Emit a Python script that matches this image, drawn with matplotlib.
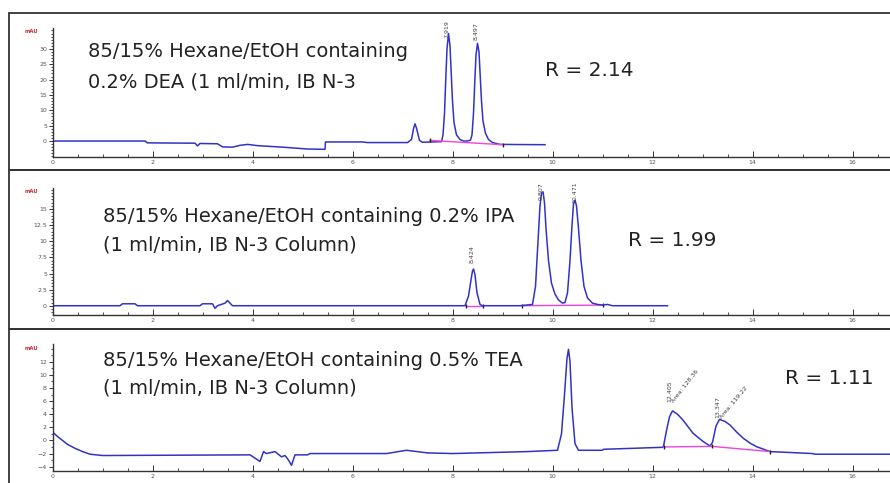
import numpy as np
import matplotlib.pyplot as plt
from matplotlib.patches import Rectangle
from matplotlib.ticker import MultipleLocator

plt.rcParams['font.family'] = ['DejaVu Sans']

# Panel 1: 85/15 Hexane/EtOH + 0.2% DEA
t1 = [0, 1.85, 1.9, 2.85, 2.9, 2.95, 3.3, 3.4, 3.6, 3.75, 3.9, 4.1, 4.6, 5.1, 5.45, 5.46,
      6.2, 6.3, 7.1, 7.18, 7.22, 7.25, 7.28, 7.34, 7.4, 7.78, 7.81, 7.84, 7.865, 7.89, 7.92,
      7.95, 7.975, 8.0, 8.03, 8.08, 8.15, 8.22, 8.3, 8.36, 8.39, 8.42, 8.445, 8.47, 8.50,
      8.53, 8.555, 8.58, 8.61, 8.66, 8.72, 8.8, 8.95, 9.85]
y1 = [0, 0, -0.6, -0.7, -1.6, -0.8, -0.9, -1.9, -2.0, -1.4, -1.1, -1.5, -2.0, -2.6, -2.7, -0.3,
      -0.3, -0.5, -0.5, 0.5, 4.0, 5.6, 4.2, 0.2, -0.4, -0.2, 2, 9, 20, 30, 35,
      31, 22, 13, 6, 2, 0.5, 0, 0, 0.3, 2, 9, 19, 28, 31.8,
      29, 21, 13, 6.5, 2.5, 0.5, -0.5, -1.1, -1.2]
base1_t = [7.55, 9.0]
base1_y = [0.2, -1.2]
peaks1 = ['7.919', '8.497']
peaks1_y = [33.6, 32.9]

# Panel 2: 85/15 Hexane/EtOH + 0.2% IPA
t2 = [0, 1.35, 1.4, 1.65, 1.7, 2.95, 3.0, 3.2, 3.25, 3.3, 3.45, 3.5, 3.55, 3.6, 8.25, 8.32,
      8.37, 8.40, 8.42, 8.45, 8.49, 8.55, 8.6, 9.35, 9.6, 9.66, 9.71, 9.75, 9.78, 9.81, 9.84,
      9.87, 9.92, 9.98, 10.05, 10.12, 10.2, 10.25, 10.3, 10.35, 10.39, 10.42, 10.45, 10.48,
      10.52, 10.57, 10.63, 10.7, 10.8, 10.9, 11.0, 11.1, 11.2, 12.3]
y2 = [0, 0, 0.3, 0.3, 0, 0, 0.3, 0.3, -0.4, 0, 0.4, 0.8, 0.4, 0, 0, 1.5,
      4, 5.4, 5.7, 4.8, 2, 0.2, 0, 0, 0.2, 3, 10, 15.5, 17.5, 17.7, 16,
      12, 7, 3.5, 1.8, 0.9, 0.4, 0.5, 2, 7, 12.5, 15.8, 16.4, 15.5,
      12, 7, 3, 1.2, 0.4, 0.2, 0.1, 0.2, 0, 0]
base2_t = [[8.26, 8.6], [9.38, 11.0]]
base2_y = [[0, 0], [0, 0.1]]
peaks2 = ['8.424', '9.807', '10.471']
peaks2_y = [6.6, 16.4, 15.9]

# Panel 3: 85/15 Hexane/EtOH + 0.5% TEA
t3 = [0, 0.1, 0.2, 0.3, 0.45, 0.6, 0.75, 1.0, 3.95, 4.15, 4.22, 4.28, 4.45, 4.58, 4.65, 4.72,
      4.78, 4.85, 5.1, 5.15, 6.68, 7.08, 7.5, 8.0, 9.5, 10.1, 10.18, 10.24, 10.29, 10.32,
      10.35, 10.39, 10.45, 10.52, 11.0, 11.02, 12.2, 12.22, 12.28, 12.34, 12.40, 12.5, 12.61,
      12.71, 12.81, 12.92, 13.02, 13.15, 13.2, 13.27, 13.34, 13.45, 13.55, 13.68, 13.82,
      13.95, 14.08, 14.35, 15.2, 15.25, 16.75]
y3 = [1.3, 0.6, 0, -0.6, -1.2, -1.7, -2.1, -2.3, -2.2, -3.2, -1.7, -2.0, -1.7, -2.5, -2.3, -3.0,
      -3.8, -2.2, -2.2, -2.0, -2.0, -1.5, -1.9, -2.0, -1.7, -1.5, 1, 7, 12.5, 13.9,
      12, 5, -0.5, -1.5, -1.5, -1.35, -1.05, -0.9, 1.5, 3.6, 4.5, 4.0, 3.1,
      2.1, 1.1, 0.4, -0.2, -0.85, -0.3, 2.2, 3.2, 2.9, 2.35, 1.3, 0.3,
      -0.4, -0.95, -1.7, -2.0, -2.1, -2.1]
base3_t = [12.22, 13.18, 14.35]
base3_y = [-1.0, -0.9, -1.7]
peaks3 = ['12.405', '13.347']
peaks3_t = [12.35, 13.31]
peaks3_y = [5.85, 3.4]
areas3 = ['Area: 128.36', 'Area: 119.22']

fig = plt.figure(figsize=(8.9, 4.83), dpi=100)
W, H = 890.0, 483.0

line_c = '#3232c8'
base_c = '#ee44dd'
txt_c = '#222222'

# panel frames
for top, bot in [(13, 170), (170, 328.5), (328.5, 490)]:
    fig.add_artist(Rectangle((9 / W, 1 - bot / H), 1.0, (bot - top) / H,
                             transform=fig.transFigure, fill=False,
                             edgecolor='#333333', linewidth=1.3))

xmax = (W - 52.5) / 50.0


def make_axes(bot_px, top_px, ylim, major, minor):
    ax = fig.add_axes([52.5 / W, 1 - bot_px / H, 1 - 52.5 / W, (bot_px - top_px) / H])
    ax.set_xlim(0, xmax)
    ax.set_ylim(*ylim)
    ax.patch.set_alpha(0)
    for s in ['top', 'right']:
        ax.spines[s].set_visible(False)
    for s in ['left', 'bottom']:
        ax.spines[s].set_linewidth(1.0)
        ax.spines[s].set_color('#333333')
    ax.xaxis.set_major_locator(MultipleLocator(2))
    ax.xaxis.set_minor_locator(MultipleLocator(0.5))
    ax.yaxis.set_major_locator(MultipleLocator(major))
    ax.yaxis.set_minor_locator(MultipleLocator(minor))
    ax.tick_params(axis='x', which='major', direction='in', length=4, width=0.7,
                   labelsize=4.5, pad=2, colors='#333333', labelcolor='#555555')
    ax.tick_params(axis='x', which='minor', direction='in', length=2.5, width=0.6,
                   colors='#333333')
    ax.tick_params(axis='y', which='major', direction='out', length=3, width=0.7,
                   labelsize=4.5, pad=1, colors='#333333', labelcolor='#555555')
    ax.tick_params(axis='y', which='minor', direction='out', length=1.8, width=0.6,
                   colors='#333333')
    return ax


ax1 = make_axes(157, 28, (-5.2, 36.8), 5, 1)
ax2 = make_axes(315, 188, (-1.44, 18.28), 2.5, 0.5)
ax3 = make_axes(471, 344, (-4.66, 14.7), 2, 1)

ax1.set_yticks([0, 5, 10, 15, 20, 25, 30])
ax2.set_yticks([0, 2.5, 5, 7.5, 10, 12.5, 15])
ax2.set_yticklabels(['0', '2.5', '5', '7.5', '10', '12.5', '15'])
ax3.set_yticks([-4, -2, 0, 2, 4, 6, 8, 10, 12])

# traces
ax1.plot(t1, y1, color=line_c, lw=1.1)
ax1.plot(base1_t, base1_y, color=base_c, lw=1.0, marker='|', ms=3, mec='#222222')
for t, y in zip(base2_t, base2_y):
    ax2.plot(t, y, color=base_c, lw=1.0, marker='|', ms=3, mec='#222222')
ax2.plot(t2, y2, color=line_c, lw=1.1)
ax3.plot(t3, y3, color=line_c, lw=1.1)
ax3.plot(base3_t, base3_y, color=base_c, lw=1.0, marker='|', ms=3, mec='#222222')

# peak labels
for lab, y in zip(peaks1, peaks1_y):
    ax1.text(float(lab) - 0.03, y, lab, rotation=90, fontsize=4.5, ha='center',
             va='bottom', color='#444444')
for lab, y in zip(peaks2, peaks2_y):
    ax2.text(float(lab) - 0.03, y, lab, rotation=90, fontsize=4.5, ha='center',
             va='bottom', color='#444444')
for lab, t, y, area, ang in zip(peaks3, peaks3_t, peaks3_y, areas3, [52, 50]):
    ax3.text(t, y, lab, rotation=90, fontsize=4.5, ha='center', va='bottom',
             color='#444444')
    ax3.text(t + 0.1, y - 0.3, area, rotation=ang, rotation_mode='anchor',
             fontsize=4.5, ha='left', va='bottom', color='#444444')

# unit labels
for ax, yf in [(ax1, 0.969), (ax2, 0.971), (ax3, 0.966)]:
    ax.text(-0.025, yf, 'mAU', transform=ax.transAxes, fontsize=3.8,
            color='#c0302c', ha='center', va='center', fontweight='bold')


def ftext(x_px, base_px, s, size=14):
    fig.text(x_px / W, 1 - base_px / H, s, fontsize=size, color=txt_c,
             ha='left', va='baseline')


ftext(88, 57, '85/15% Hexane/EtOH containing')
ftext(88, 87, '0.2% DEA (1 ml/min, IB N-3')
ftext(545, 76, 'R = 2.14', 14.5)
ftext(103, 221.5, '85/15% Hexane/EtOH containing 0.2% IPA')
ftext(103, 251, '(1 ml/min, IB N-3 Column)')
ftext(628, 246, 'R = 1.99', 14.5)
ftext(103, 366.5, '85/15% Hexane/EtOH containing 0.5% TEA')
ftext(103, 394, '(1 ml/min, IB N-3 Column)')
ftext(785, 384, 'R = 1.11', 14.5)

fig.savefig('out.png', dpi=100)
